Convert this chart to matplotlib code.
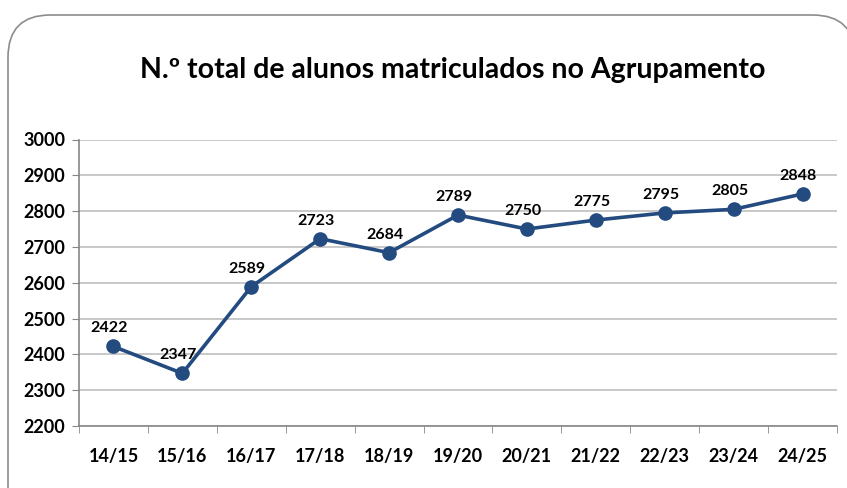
import matplotlib.pyplot as plt
from matplotlib.patches import FancyBboxPatch

anos = ['14/15', '15/16', '16/17', '17/18', '18/19', '19/20',
        '20/21', '21/22', '22/23', '23/24', '24/25']
alunos = [2422, 2347, 2589, 2723, 2684, 2789, 2750, 2775, 2795, 2805, 2848]
yticks = [2200, 2300, 2400, 2500, 2600, 2700, 2800, 2900, 3000]

plt.rcParams['font.family'] = ['Lato', 'DejaVu Sans']

fig = plt.figure(figsize=(8.47, 4.88), dpi=100)
W, H = 847, 488

# rounded frame of the chart area
frame = FancyBboxPatch((8 / W, -0.2), 1.0, 1.2 - 15 / H,
                       boxstyle='round,pad=0,rounding_size=0.05',
                       transform=fig.transFigure, fc='white', ec='#8c8c8c',
                       lw=1.2, mutation_aspect=W / H, zorder=-10)
fig.patches.append(frame)

ax = fig.add_axes([79 / W, 1 - 426 / H, (837 - 79) / W, (426 - 139.5) / H])
ax.patch.set_alpha(0)
x = list(range(len(anos)))
ax.plot(x, alunos, color='#234b80', lw=2.6, marker='o', ms=9.5, zorder=3)

for xi, v in zip(x, alunos):
    ax.annotate(str(v), (xi, v), xytext=(-3, 8), textcoords='offset points',
                ha='center', va='bottom', fontsize=11.5, fontweight='bold')

ax.set_xlim(-0.5, len(anos) - 0.5)
ax.set_ylim(2200, 3000)
ax.set_yticks(yticks)
ax.set_yticklabels([str(t) for t in yticks], fontsize=13, fontweight='bold')
ax.set_xticks(x)
ax.set_xticklabels(anos, fontsize=13, fontweight='bold')
ax.set_xticks([i - 0.5 for i in range(len(anos) + 1)], minor=True)
ax.tick_params(axis='x', which='major', length=0, pad=16)
ax.tick_params(axis='x', which='minor', length=5, color='#868686')
ax.tick_params(axis='y', length=5, color='#868686', pad=5)

ax.grid(axis='y', color='#bfbfbf', lw=1.2)
ax.set_axisbelow(True)
for s in ['top', 'right']:
    ax.spines[s].set_visible(False)
for s in ['left', 'bottom']:
    ax.spines[s].set_color('#868686')
    ax.spines[s].set_linewidth(1.2)

fig.text(0.535, 1 - 70 / H, 'N.º total de alunos matriculados no Agrupamento',
         ha='center', va='center', fontsize=20.5, fontweight='bold')

fig.savefig('out.png', dpi=100)
